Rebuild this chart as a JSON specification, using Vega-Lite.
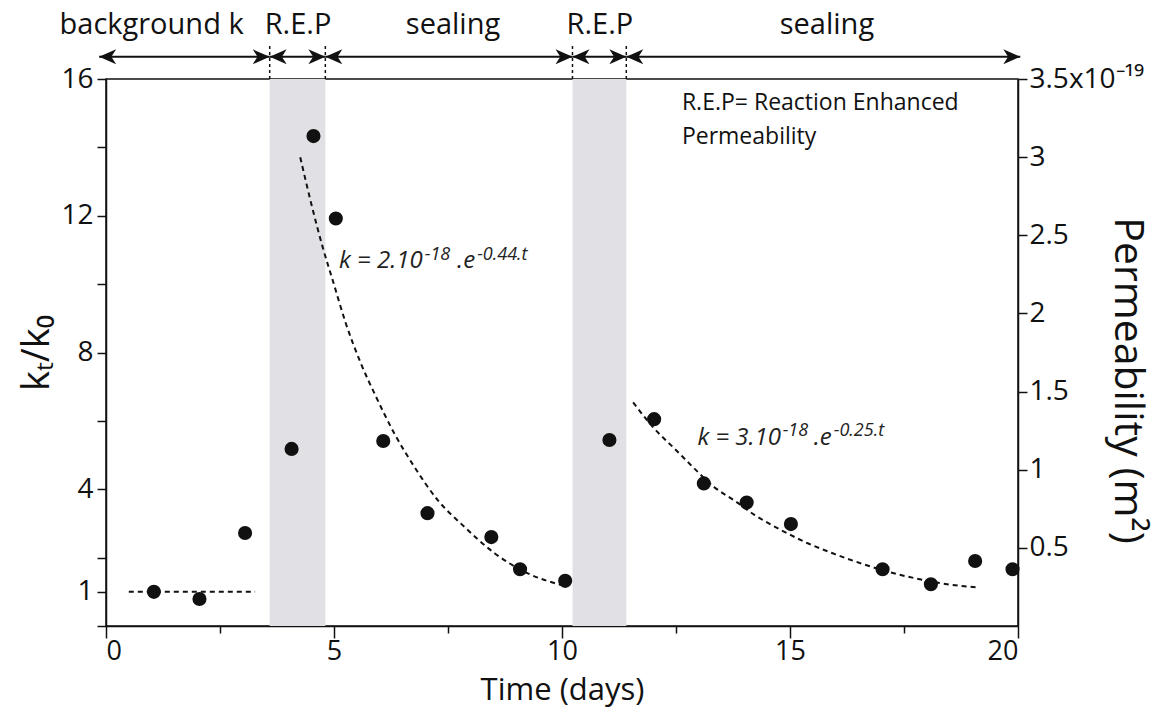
{
  "$schema": "https://vega.github.io/schema/vega-lite/v6.json",
  "width": 912,
  "height": 547,
  "autosize": {"type": "none"},
  "padding": {"left": 106, "top": 79, "right": 150, "bottom": 83},
  "background": "white",
  "config": {
    "view": {"stroke": "#111", "strokeWidth": 1.5},
    "font": "Open Sans",
    "axis": {
      "grid": false,
      "domainColor": "#111",
      "domainWidth": 1.5,
      "tickColor": "#111",
      "tickWidth": 1.5,
      "labelFont": "Open Sans",
      "labelFontSize": 28,
      "labelColor": "#111",
      "titleFont": "Open Sans",
      "titleFontSize": 36,
      "titleFontWeight": "normal",
      "titleColor": "#111"
    }
  },
  "datasets": {
    "points": [
      {"t": 1.05, "k": 1.0}, {"t": 2.05, "k": 0.79}, {"t": 3.05, "k": 2.72},
      {"t": 4.07, "k": 5.18}, {"t": 4.55, "k": 14.33}, {"t": 5.04, "k": 11.92},
      {"t": 6.08, "k": 5.41}, {"t": 7.05, "k": 3.3}, {"t": 8.45, "k": 2.6},
      {"t": 9.08, "k": 1.66}, {"t": 10.07, "k": 1.32}, {"t": 11.04, "k": 5.44},
      {"t": 12.02, "k": 6.05}, {"t": 13.11, "k": 4.17}, {"t": 14.05, "k": 3.61},
      {"t": 15.02, "k": 2.98}, {"t": 17.03, "k": 1.66}, {"t": 18.09, "k": 1.22},
      {"t": 19.06, "k": 1.9}, {"t": 19.88, "k": 1.66}
    ],
    "fits": [
      {"s": "bg", "t": 0.5, "k": 1.0}, {"s": "bg", "t": 3.27, "k": 1.0},
      {"s": "f1", "t": 4.26, "k": 13.71}, {"s": "f1", "t": 4.5, "k": 12.36},
      {"s": "f1", "t": 4.75, "k": 11.09}, {"s": "f1", "t": 4.97, "k": 10.12},
      {"s": "f1", "t": 5.26, "k": 8.85}, {"s": "f1", "t": 5.59, "k": 7.68},
      {"s": "f1", "t": 5.92, "k": 6.71}, {"s": "f1", "t": 6.32, "k": 5.64},
      {"s": "f1", "t": 6.76, "k": 4.66}, {"s": "f1", "t": 7.27, "k": 3.69},
      {"s": "f1", "t": 7.86, "k": 2.9}, {"s": "f1", "t": 8.52, "k": 2.13},
      {"s": "f1", "t": 9.25, "k": 1.54}, {"s": "f1", "t": 9.98, "k": 1.2},
      {"s": "f2", "t": 11.56, "k": 6.54}, {"s": "f2", "t": 12.02, "k": 5.78},
      {"s": "f2", "t": 12.46, "k": 5.2}, {"s": "f2", "t": 12.9, "k": 4.61},
      {"s": "f2", "t": 13.34, "k": 4.06}, {"s": "f2", "t": 13.78, "k": 3.67},
      {"s": "f2", "t": 14.22, "k": 3.25}, {"s": "f2", "t": 14.8, "k": 2.81},
      {"s": "f2", "t": 15.39, "k": 2.42}, {"s": "f2", "t": 15.97, "k": 2.11},
      {"s": "f2", "t": 16.56, "k": 1.83}, {"s": "f2", "t": 17.14, "k": 1.59},
      {"s": "f2", "t": 17.73, "k": 1.4}, {"s": "f2", "t": 18.31, "k": 1.25},
      {"s": "f2", "t": 19.08, "k": 1.13}
    ],
    "bands": [
      {"a": 3.59, "b": 4.81}, {"a": 10.23, "b": 11.41}
    ],
    "bounds": [
      {"t": 3.59}, {"t": 4.81}, {"t": 10.23}, {"t": 11.41}
    ],
    "segments": [
      {"a": -0.15, "b": 3.59, "label": "background k", "lx": 1.0},
      {"a": 3.59, "b": 4.81, "label": "R.E.P", "lx": 4.21},
      {"a": 4.81, "b": 10.23, "label": "sealing", "lx": 7.61},
      {"a": 10.23, "b": 11.41, "label": "R.E.P", "lx": 10.83},
      {"a": 11.41, "b": 20.05, "label": "sealing", "lx": 15.81}
    ],
    "heads": [
      {"t": -0.15, "dir": "L"}, {"t": 3.59, "dir": "R"},
      {"t": 3.59, "dir": "L"}, {"t": 4.81, "dir": "R"},
      {"t": 4.81, "dir": "L"}, {"t": 10.23, "dir": "R"},
      {"t": 10.23, "dir": "L"}, {"t": 11.41, "dir": "R"},
      {"t": 11.41, "dir": "L"}, {"t": 20.05, "dir": "R"}
    ],
    "note": [
      {"t": 12.63, "k": 15.3, "txt": "R.E.P= Reaction Enhanced"},
      {"t": 12.63, "k": 14.3, "txt": "Permeability"}
    ],
    "eqbase": [
      {"t": 5.11, "k": 10.47, "txt": "k = 2.10"},
      {"t": 7.7, "k": 10.47, "txt": ".e"},
      {"t": 12.97, "k": 5.29, "txt": "k = 3.10"},
      {"t": 15.52, "k": 5.29, "txt": ".e"}
    ],
    "eqsup": [
      {"t": 6.99, "k": 10.72, "txt": "-18"},
      {"t": 8.14, "k": 10.72, "txt": "-0.44.t"},
      {"t": 14.84, "k": 5.56, "txt": "-18"},
      {"t": 15.96, "k": 5.56, "txt": "-0.25.t"}
    ]
  },
  "layer": [
    {
      "layer": [
        {
          "data": {"name": "bands"},
          "mark": {"type": "rect", "color": "#e1e1e5"},
          "encoding": {
            "x": {"field": "a", "type": "quantitative", "title": "Time (days)", "scale": {"domain": [0, 20], "nice": false}},
            "x2": {"field": "b"}
          }
        },
        {
          "data": {"name": "fits"},
          "mark": {"type": "line", "color": "#111", "strokeWidth": 2, "strokeDash": [5, 4], "interpolate": "monotone"},
          "encoding": {
            "x": {"field": "t", "type": "quantitative", "title": "Time (days)", "scale": {"domain": [0, 20], "nice": false}},
            "y": {"field": "k", "type": "quantitative", "title": "kₜ/k₀", "scale": {"domain": [0, 16], "nice": false}},
            "detail": {"field": "s"}
          }
        },
        {
          "data": {"name": "points"},
          "mark": {"type": "circle", "color": "#111", "opacity": 1, "size": 200},
          "encoding": {
            "x": {
              "field": "t", "type": "quantitative", "title": "Time (days)",
              "scale": {"domain": [0, 20], "nice": false},
              "axis": {
                "values": [0, 2.5, 5, 7.5, 10, 12.5, 15, 17.5, 20],
                "labelExpr": "datum.value % 5 == 0 ? datum.label : ''",
                "tickSize": {"condition": {"test": "datum.value % 5 == 0", "value": 12}, "value": 7},
                "labelFontSize": 27,
                "labelPadding": 0,
                "titleFontSize": 31,
                "titleY": 73,
                "titleBaseline": "alphabetic"
              }
            },
            "y": {
              "field": "k", "type": "quantitative", "title": "kₜ/k₀",
              "scale": {"domain": [0, 16], "nice": false},
              "axis": {
                "values": [0, 1, 2, 4, 6, 8, 10, 12, 14, 16],
                "labelExpr": "indexof([16, 12, 8, 4, 1], datum.value) >= 0 ? datum.label : ''",
                "tickSize": 9,
                "labelPadding": 4,
                "titleFontSize": 38,
                "titlePadding": 4
              }
            }
          }
        },
        {
          "data": {"name": "bounds"},
          "mark": {"type": "rule", "color": "#111", "strokeWidth": 1.5, "strokeDash": [3, 3], "clip": false},
          "encoding": {
            "x": {"field": "t", "type": "quantitative", "title": "Time (days)", "scale": {"domain": [0, 20], "nice": false}},
            "y": {"datum": 16, "type": "quantitative", "title": "kₜ/k₀", "scale": {"domain": [0, 16], "nice": false}},
            "y2": {"datum": 17.05}
          }
        },
        {
          "data": {"name": "segments"},
          "mark": {"type": "rule", "color": "#111", "strokeWidth": 2, "clip": false},
          "encoding": {
            "x": {"field": "a", "type": "quantitative", "title": "Time (days)", "scale": {"domain": [0, 20], "nice": false}},
            "x2": {"field": "b"},
            "y": {"datum": 16.65, "type": "quantitative", "title": "kₜ/k₀", "scale": {"domain": [0, 16], "nice": false}}
          }
        },
        {
          "data": {"name": "heads"},
          "mark": {"type": "point", "filled": true, "color": "#111", "opacity": 1, "size": 450, "clip": false},
          "encoding": {
            "x": {"field": "t", "type": "quantitative", "title": "Time (days)", "scale": {"domain": [0, 20], "nice": false}},
            "y": {"datum": 16.65, "type": "quantitative", "title": "kₜ/k₀", "scale": {"domain": [0, 16], "nice": false}},
            "shape": {
              "field": "dir", "type": "nominal", "legend": null,
              "scale": {"domain": ["L", "R"], "range": ["M 0 0 L 1.6 -0.7 L 1.15 0 L 1.6 0.7 Z", "M 0 0 L -1.6 -0.7 L -1.15 0 L -1.6 0.7 Z"]}
            }
          }
        },
        {
          "data": {"name": "segments"},
          "mark": {"type": "text", "color": "#111", "fontSize": 29, "baseline": "middle", "align": "center", "clip": false},
          "encoding": {
            "x": {"field": "lx", "type": "quantitative", "title": "Time (days)", "scale": {"domain": [0, 20], "nice": false}},
            "y": {"datum": 17.58, "type": "quantitative", "title": "kₜ/k₀", "scale": {"domain": [0, 16], "nice": false}},
            "text": {"field": "label"}
          }
        },
        {
          "data": {"name": "note"},
          "mark": {"type": "text", "color": "#111", "fontSize": 23, "baseline": "middle", "align": "left"},
          "encoding": {
            "x": {"field": "t", "type": "quantitative", "title": "Time (days)", "scale": {"domain": [0, 20], "nice": false}},
            "y": {"field": "k", "type": "quantitative", "title": "kₜ/k₀", "scale": {"domain": [0, 16], "nice": false}},
            "text": {"field": "txt"}
          }
        },
        {
          "data": {"name": "eqbase"},
          "mark": {"type": "text", "color": "#222", "fontSize": 24, "fontStyle": "italic", "baseline": "alphabetic", "align": "left"},
          "encoding": {
            "x": {"field": "t", "type": "quantitative", "title": "Time (days)", "scale": {"domain": [0, 20], "nice": false}},
            "y": {"field": "k", "type": "quantitative", "title": "kₜ/k₀", "scale": {"domain": [0, 16], "nice": false}},
            "text": {"field": "txt"}
          }
        },
        {
          "data": {"name": "eqsup"},
          "mark": {"type": "text", "color": "#222", "fontSize": 18, "fontStyle": "italic", "baseline": "alphabetic", "align": "left"},
          "encoding": {
            "x": {"field": "t", "type": "quantitative", "title": "Time (days)", "scale": {"domain": [0, 20], "nice": false}},
            "y": {"field": "k", "type": "quantitative", "title": "kₜ/k₀", "scale": {"domain": [0, 16], "nice": false}},
            "text": {"field": "txt"}
          }
        }
      ]
    },
    {
      "data": {"values": [{"p": 0}]},
      "mark": {"type": "point", "opacity": 0},
      "encoding": {
        "y": {
          "field": "p", "type": "quantitative", "title": "Permeability (m²)",
          "scale": {"domain": [0, 3.5e-19], "nice": false, "zero": false},
          "axis": {
            "orient": "right",
            "values": [0.5e-19, 1e-19, 1.5e-19, 2e-19, 2.5e-19, 3e-19, 3.5e-19],
            "labelExpr": "datum.value > 3.4e-19 ? '3.5x10⁻¹⁹' : format(datum.value * 1e19, '.1~f')",
            "tickSize": 9,
            "labelPadding": 2,
            "titleFontSize": 41,
            "titleAngle": 90,
            "titleX": 108,
            "titleY": 301,
            "titleAlign": "center",
            "titleBaseline": "middle"
          }
        }
      }
    }
  ],
  "resolve": {"scale": {"y": "independent"}}
}
